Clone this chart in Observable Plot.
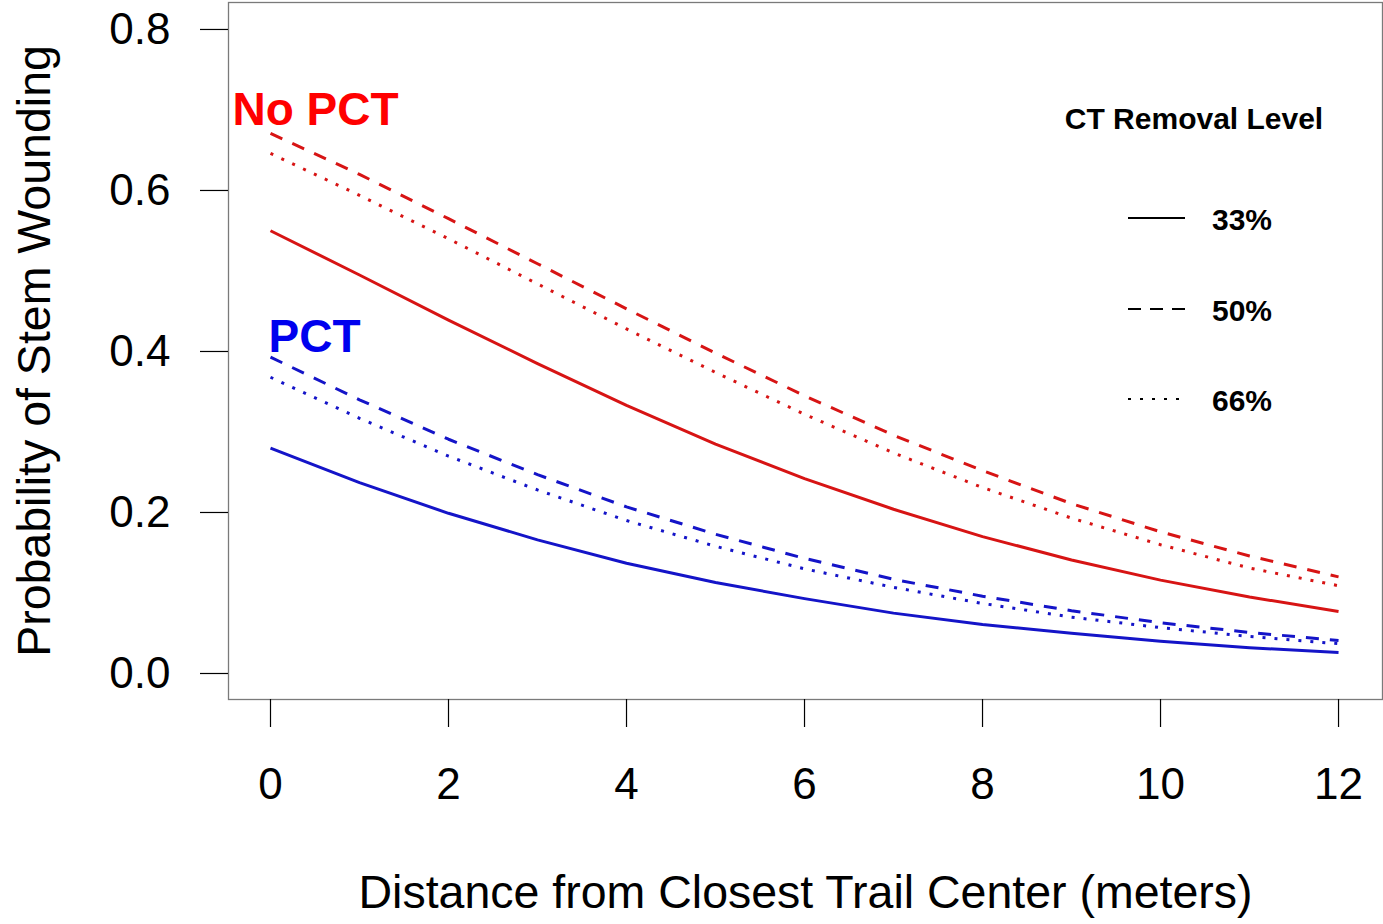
<!DOCTYPE html>
<html>
<head>
<meta charset="utf-8">
<script src="https://cdn.jsdelivr.net/npm/d3@7"></script>
<script src="https://cdn.jsdelivr.net/npm/@observablehq/plot@0.6"></script>
<style>
  html, body { margin: 0; padding: 0; background: #ffffff; }
  #chart { width: 1383px; height: 924px; }
  svg { font-family: "Liberation Sans", Arial, sans-serif; }
</style>
</head>
<body>
<div id="chart"></div>
<script>
// ---- data ----
const distance = [0, 1, 2, 3, 4, 5, 6, 7, 8, 9, 10, 11, 12];

const noPCT_33 = [0.550, 0.495, 0.439, 0.385, 0.333, 0.285, 0.242, 0.204, 0.170, 0.141, 0.116, 0.095, 0.077];
const noPCT_50 = [0.671, 0.620, 0.565, 0.509, 0.453, 0.398, 0.345, 0.296, 0.252, 0.211, 0.176, 0.146, 0.120];
const noPCT_66 = [0.646, 0.594, 0.540, 0.484, 0.428, 0.374, 0.322, 0.274, 0.231, 0.193, 0.160, 0.131, 0.109];

const pct_33 = [0.280, 0.237, 0.199, 0.166, 0.137, 0.113, 0.093, 0.075, 0.061, 0.050, 0.040, 0.032, 0.026];
const pct_50 = [0.393, 0.340, 0.291, 0.247, 0.207, 0.173, 0.143, 0.117, 0.096, 0.078, 0.063, 0.051, 0.041];
const pct_66 = [0.368, 0.317, 0.270, 0.228, 0.190, 0.158, 0.130, 0.107, 0.087, 0.070, 0.057, 0.046, 0.037];

const groups = ["No PCT", "PCT"];
const levels = ["33%", "50%", "66%"];
const xTicks = [0, 2, 4, 6, 8, 10, 12];
const yTicks = [0.0, 0.2, 0.4, 0.6, 0.8];
const xTitle = "Distance from Closest Trail Center (meters)";
const yTitle = "Probability of Stem Wounding";
const legendTitle = "CT Removal Level";

// ---- styling ----
const lineColor = {"No PCT": "#d71414", "PCT": "#1414c8"};
const textColor = {"No PCT": "#ff0000", "PCT": "#0000ee"};
const dash = {"33%": null, "50%": "13,11", "66%": "3,9"};

// ---- build tidy table ----
const seriesValues = {
  "No PCT": {"33%": noPCT_33, "50%": noPCT_50, "66%": noPCT_66},
  "PCT": {"33%": pct_33, "50%": pct_50, "66%": pct_66}
};
const rows = [];
for (const g of groups) for (const l of levels) {
  seriesValues[g][l].forEach((v, i) => rows.push({group: g, level: l, x: distance[i], y: v}));
}

const font = "'Liberation Sans', Arial, sans-serif";

const lineMarks = [];
for (const g of groups) for (const l of levels) {
  lineMarks.push(Plot.line(rows.filter(d => d.group === g && d.level === l), {
    x: "x", y: "y", stroke: lineColor[g], strokeWidth: 3,
    strokeDasharray: dash[l] || undefined, strokeLinecap: "butt", strokeLinejoin: "round"
  }));
}

// group labels anchored to the start of each 50% curve
const labelRows = rows.filter(d => d.level === "50%" && d.x === distance[0]);

const plot = Plot.plot({
  width: 1383,
  height: 924,
  marginLeft: 228,
  marginRight: 1,
  marginTop: 2,
  marginBottom: 225,
  style: {fontFamily: font, background: "white", overflow: "visible"},
  x: {domain: [-0.4719, 12.494]},
  y: {domain: [-0.0323, 0.8335]},
  marks: [
    Plot.frame({stroke: "#7a7a7a", strokeWidth: 1.3}),
    Plot.axisY({ticks: yTicks, tickFormat: ".1f", tickSize: 28, tickPadding: 30,
      fontSize: 44, stroke: "black", strokeWidth: 1.2, fill: "black", label: null}),
    Plot.axisX({ticks: xTicks, tickFormat: d => String(d), tickSize: 28, tickPadding: 40,
      fontSize: 44, stroke: "black", strokeWidth: 1.2, fill: "black", label: null}),
    ...lineMarks,
    Plot.text(labelRows.filter(d => d.group === "No PCT"), {
      x: "x", y: "y", text: "group", fill: textColor["No PCT"], fontSize: 46, fontWeight: "bold",
      textAnchor: "start", dx: -38, dy: -23
    }),
    Plot.text(labelRows.filter(d => d.group === "PCT"), {
      x: "x", y: "y", text: "group", fill: textColor["PCT"], fontSize: 46, fontWeight: "bold",
      textAnchor: "start", dx: -2, dy: -20
    }),
    Plot.text([xTitle], {frameAnchor: "bottom", textAnchor: "middle", lineAnchor: "middle",
      dy: 194, fontSize: 46.5, fill: "black"}),
    Plot.text([yTitle], {frameAnchor: "left", textAnchor: "middle", lineAnchor: "middle",
      rotate: -90, dx: -193, fontSize: 46.5, fill: "black"})
  ]
});

// ---- legend (inside the frame, upper right) ----
const svg = d3.select(plot);
const fw = 1383 - 1; // frame right edge
const lg = svg.append("g").attr("font-family", font).attr("font-weight", "bold");
lg.append("text").attr("x", fw - 188).attr("y", 118).attr("dy", "0.35em")
  .attr("text-anchor", "middle").attr("font-size", 30).attr("fill", "black").text(legendTitle);
const rowY = [218, 309, 399];
levels.forEach((l, i) => {
  lg.append("line").attr("x1", fw - 254).attr("x2", fw - 197)
    .attr("y1", rowY[i]).attr("y2", rowY[i])
    .attr("stroke", "black").attr("stroke-width", 2.2)
    .attr("stroke-dasharray", l === "50%" ? "13,9" : l === "66%" ? "3,9" : null);
  lg.append("text").attr("x", fw - 170).attr("y", rowY[i] + 1).attr("dy", "0.35em")
    .attr("text-anchor", "start")
    .attr("font-size", 30).attr("fill", "black").text(l);
});

document.getElementById("chart").appendChild(plot);
</script>
</body>
</html>
